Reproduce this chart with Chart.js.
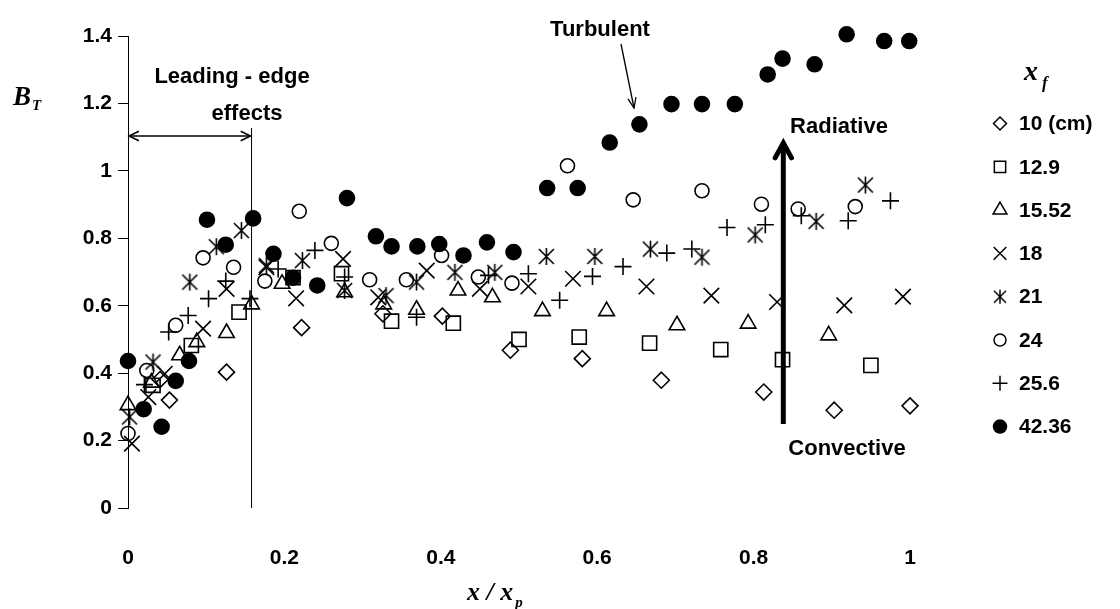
<!DOCTYPE html>
<html>
<head>
<meta charset="utf-8">
<style>
  body { margin: 0; background: #fff; }
  canvas { display: block; }
</style>
<script src="https://cdn.jsdelivr.net/npm/chart.js@4.4.1/dist/chart.umd.min.js"></script>
</head>
<body>
<canvas id="chart" width="1120" height="609"></canvas>
<script>
// x / x_p positions and B_T values, one pair of arrays per x_f
const x10 = [0.041, 0.053, 0.126, 0.222, 0.326, 0.402, 0.489, 0.581, 0.682, 0.813, 0.903, 1.0];
const b10 = [0.381, 0.320, 0.403, 0.535, 0.576, 0.569, 0.468, 0.443, 0.379, 0.344, 0.290, 0.303];

const x129 = [0.032, 0.081, 0.142, 0.211, 0.273, 0.337, 0.416, 0.500, 0.577, 0.667, 0.758, 0.837, 0.950];
const b129 = [0.364, 0.482, 0.581, 0.683, 0.695, 0.554, 0.548, 0.500, 0.507, 0.489, 0.470, 0.440, 0.423];

const x1552 = [0.000, 0.030, 0.066, 0.088, 0.126, 0.158, 0.197, 0.277, 0.327, 0.369, 0.422, 0.466, 0.530, 0.612, 0.702, 0.793, 0.896];
const b1552 = [0.305, 0.372, 0.453, 0.492, 0.519, 0.604, 0.665, 0.640, 0.604, 0.588, 0.645, 0.625, 0.584, 0.584, 0.542, 0.547, 0.512];

const x18 = [0.005, 0.026, 0.047, 0.096, 0.126, 0.177, 0.215, 0.275, 0.320, 0.382, 0.450, 0.512, 0.569, 0.663, 0.746, 0.830, 0.916, 0.991];
const b18 = [0.191, 0.329, 0.398, 0.532, 0.650, 0.714, 0.622, 0.739, 0.625, 0.704, 0.650, 0.657, 0.680, 0.657, 0.630, 0.611, 0.601, 0.627];

const x21 = [0.002, 0.032, 0.079, 0.113, 0.145, 0.177, 0.223, 0.277, 0.330, 0.369, 0.418, 0.469, 0.535, 0.597, 0.668, 0.734, 0.802, 0.880, 0.943];
const b21 = [0.270, 0.433, 0.670, 0.775, 0.823, 0.719, 0.734, 0.645, 0.630, 0.670, 0.699, 0.699, 0.746, 0.746, 0.768, 0.744, 0.810, 0.850, 0.958];

const x24 = [0.000, 0.024, 0.061, 0.096, 0.135, 0.175, 0.219, 0.260, 0.309, 0.356, 0.401, 0.448, 0.491, 0.562, 0.646, 0.734, 0.810, 0.857, 0.930];
const b24 = [0.221, 0.408, 0.542, 0.742, 0.714, 0.673, 0.880, 0.785, 0.677, 0.677, 0.749, 0.685, 0.667, 1.015, 0.914, 0.941, 0.901, 0.887, 0.894];

const x256 = [0.021, 0.052, 0.077, 0.103, 0.125, 0.156, 0.192, 0.239, 0.277, 0.369, 0.461, 0.512, 0.552, 0.594, 0.633, 0.689, 0.721, 0.766, 0.815, 0.861, 0.921, 0.975];
const b256 = [0.366, 0.522, 0.571, 0.621, 0.673, 0.621, 0.709, 0.764, 0.685, 0.566, 0.690, 0.695, 0.616, 0.687, 0.716, 0.756, 0.768, 0.832, 0.840, 0.867, 0.852, 0.911];

const x4236 = [0.000, 0.020, 0.043, 0.061, 0.078, 0.101, 0.125, 0.160, 0.186, 0.211, 0.242, 0.280, 0.317, 0.337, 0.370, 0.398, 0.429, 0.459, 0.493, 0.536, 0.575, 0.616, 0.654, 0.695, 0.734, 0.776, 0.818, 0.837, 0.878, 0.919, 0.967, 0.999];
const b4236 = [0.436, 0.293, 0.241, 0.377, 0.436, 0.855, 0.781, 0.859, 0.754, 0.683, 0.660, 0.919, 0.806, 0.776, 0.776, 0.783, 0.749, 0.788, 0.759, 0.949, 0.949, 1.084, 1.138, 1.198, 1.198, 1.198, 1.286, 1.333, 1.316, 1.405, 1.385, 1.385];

const seriesLabels = ["10 (cm)", "12.9", "15.52", "18", "21", "24", "25.6", "42.36"];
const xTicks = [0, 0.2, 0.4, 0.6, 0.8, 1];
const yTicks = [0, 0.2, 0.4, 0.6, 0.8, 1, 1.2, 1.4];

const SANS = '"Liberation Sans", Arial, sans-serif';
const SERIF = '"Liberation Serif", "Times New Roman", serif';

// Excel-style asterisk: an X with a vertical bar
function makeStar(size, lw) {
  const c = document.createElement("canvas");
  c.width = c.height = size;
  const g = c.getContext("2d");
  const m = size / 2, a = size / 2 - 2;
  g.strokeStyle = "#000";
  g.lineWidth = lw;
  g.beginPath();
  g.moveTo(m - a, m - a); g.lineTo(m + a, m + a);
  g.moveTo(m + a, m - a); g.lineTo(m - a, m + a);
  g.moveTo(m, m - a - 1); g.lineTo(m, m + a + 1);
  g.stroke();
  return c;
}
const starPlot = makeStar(19, 1.6);
const starLegend = makeStar(16, 1.5);

const pts = (xs, ys) => xs.map((v, i) => ({ x: v, y: ys[i] }));

const markers = [
  { style: "rectRot", r: 8, fill: false },
  { style: "rect", r: 10, fill: false },
  { style: "triangle", r: 9, fill: false },
  { style: "crossRot", r: 11, fill: false },
  { style: starPlot, r: 9, fill: false },
  { style: "circle", r: 7, fill: false },
  { style: "cross", r: 8.5, fill: false },
  { style: "circle", r: 7.5, fill: true },
];
const legendMarkers = [
  { style: "rectRot", r: 6.5 },
  { style: "rect", r: 8 },
  { style: "triangle", r: 8 },
  { style: "crossRot", r: 9 },
  { style: starLegend, r: 8 },
  { style: "circle", r: 6 },
  { style: "cross", r: 7.5 },
  { style: "circle", r: 6.5 },
];

const allData = [
  pts(x10, b10), pts(x129, b129), pts(x1552, b1552), pts(x18, b18),
  pts(x21, b21), pts(x24, b24), pts(x256, b256), pts(x4236, b4236),
];

const datasets = allData.map((d, i) => ({
  label: seriesLabels[i],
  data: d,
  pointStyle: markers[i].style,
  pointRadius: markers[i].r,
  pointHoverRadius: markers[i].r,
  pointBorderWidth: 1.6,
  pointBorderColor: "#000",
  pointBackgroundColor: markers[i].fill ? "#000" : "rgba(0,0,0,0)",
  showLine: false,
  clip: false,
  order: 7 - i,
}));

function line(ctx, x1, y1, x2, y2) {
  ctx.beginPath();
  ctx.moveTo(x1, y1);
  ctx.lineTo(x2, y2);
  ctx.stroke();
}

function arrowHead(ctx, tx, ty, fromX, fromY, len, spread) {
  const ang = Math.atan2(ty - fromY, tx - fromX);
  ctx.beginPath();
  ctx.moveTo(tx - len * Math.cos(ang - spread), ty - len * Math.sin(ang - spread));
  ctx.lineTo(tx, ty);
  ctx.lineTo(tx - len * Math.cos(ang + spread), ty - len * Math.sin(ang + spread));
  ctx.stroke();
}

const annotations = {
  id: "annotations",
  afterDraw(chart) {
    const { ctx } = chart;
    const xs = chart.scales.x;
    ctx.save();
    ctx.fillStyle = "#000";
    ctx.strokeStyle = "#000";
    ctx.lineCap = "butt";

    // axis titles
    ctx.textAlign = "left";
    ctx.textBaseline = "alphabetic";
    ctx.font = "italic bold 27px " + SERIF;
    ctx.fillText("B", 13, 105);
    ctx.font = "italic bold 15px " + SERIF;
    ctx.fillText("T", 32, 110);

    ctx.font = "italic bold 26px " + SERIF;
    ctx.fillText("x / x", 467, 600);
    const w = ctx.measureText("x / x").width;
    ctx.font = "italic bold 15px " + SERIF;
    ctx.fillText("p", 467 + w + 2, 607);

    // text notes
    ctx.font = "bold 22px " + SANS;
    ctx.textAlign = "center";
    ctx.fillText("Turbulent", 600, 36);
    ctx.fillText("Leading - edge", 232, 83);
    ctx.fillText("effects", 247, 120);
    ctx.fillText("Radiative", 839, 133);
    ctx.fillText("Convective", 847, 455);

    // turbulent pointer
    ctx.lineWidth = 1.3;
    line(ctx, 621, 44, 634, 108);
    arrowHead(ctx, 634, 108, 621, 44, 11, 0.38);

    // leading-edge span
    const xe = xs.getPixelForValue(0.158);
    const x0 = xs.getPixelForValue(0);
    ctx.lineWidth = 1;
    line(ctx, xe, 128, xe, chart.chartArea.bottom);
    ctx.lineWidth = 1.5;
    line(ctx, x0 + 1, 136, xe - 1, 136);
    arrowHead(ctx, xe - 1, 136, x0, 136, 11, 0.45);
    arrowHead(ctx, x0 + 1, 136, xe, 136, 11, 0.45);

    // radiative / convective arrow
    const xa = xs.getPixelForValue(0.838);
    ctx.lineWidth = 5;
    line(ctx, xa, 424, xa, 146);
    ctx.lineCap = "round";
    ctx.lineJoin = "miter";
    arrowHead(ctx, xa, 143, xa, 424, 17, 0.5);

    // legend
    ctx.textAlign = "left";
    ctx.font = "italic bold 28px " + SERIF;
    ctx.fillText("x", 1024, 80);
    ctx.font = "italic bold 17px " + SERIF;
    ctx.fillText("f", 1042, 88);

    ctx.font = "bold 21px " + SANS;
    ctx.textBaseline = "middle";
    ctx.lineCap = "butt";
    seriesLabels.forEach((lab, i) => {
      const y = 123.5 + 43.3 * i;
      const m = legendMarkers[i];
      ctx.fillStyle = i === 7 ? "#000" : "rgba(0,0,0,0)";
      ctx.strokeStyle = "#000";
      ctx.lineWidth = 1.5;
      if (Chart.helpers && Chart.helpers.drawPoint) {
        Chart.helpers.drawPoint(ctx, { pointStyle: m.style, radius: m.r, rotation: 0, borderWidth: 1.5 }, 1000, y);
      }
      ctx.fillStyle = "#000";
      ctx.fillText(lab, 1019, y + 1);
    });
    ctx.restore();
  },
};

new Chart(document.getElementById("chart"), {
  type: "scatter",
  data: { datasets },
  plugins: [annotations],
  options: {
    responsive: false,
    animation: false,
    devicePixelRatio: 1,
    layout: { padding: { top: 36, right: 210, left: 0, bottom: 0 } },
    plugins: { legend: { display: false }, tooltip: { enabled: false } },
    scales: {
      x: {
        type: "linear",
        min: 0,
        max: 1,
        afterFit: (s) => { s.height = 101; },
        afterBuildTicks: (s) => { s.ticks = xTicks.map((v) => ({ value: v })); },
        grid: { display: false, drawTicks: false },
        border: { display: false },
        ticks: {
          padding: 38,
          color: "#000",
          font: { family: SANS, size: 21, weight: "bold" },
          callback: (v) => String(+v.toFixed(1)),
        },
      },
      y: {
        type: "linear",
        min: 0,
        max: 1.4,
        afterFit: (s) => { s.width = 128; },
        afterBuildTicks: (s) => { s.ticks = yTicks.map((v) => ({ value: v })); },
        grid: { drawOnChartArea: false, tickLength: 10, color: "#000", lineWidth: 1 },
        border: { display: true, color: "#000", width: 1 },
        ticks: {
          padding: 6,
          color: "#000",
          font: { family: SANS, size: 21, weight: "bold" },
          callback: (v) => String(+v.toFixed(1)),
        },
      },
    },
  },
});
</script>
</body>
</html>
